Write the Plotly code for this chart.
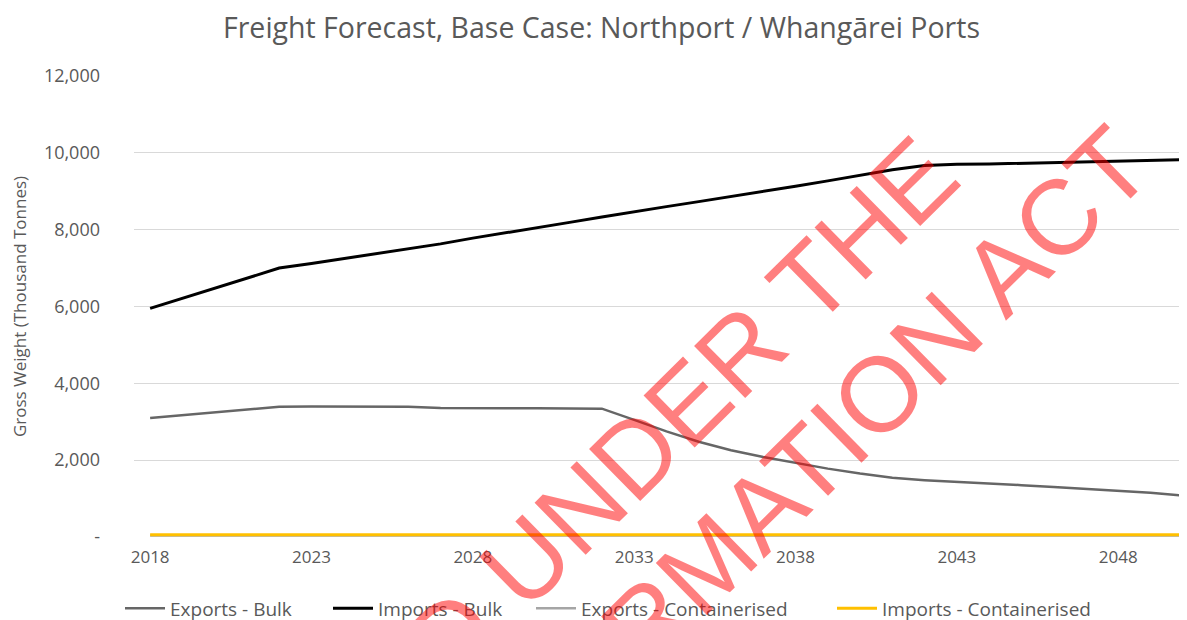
import plotly.graph_objects as go

years = list(range(2018, 2051))

exports_bulk = [3100, 3170, 3250, 3320, 3390, 3400, 3400, 3400, 3390, 3360, 3350,
                3350, 3350, 3350, 3340, 3050, 2750, 2480, 2260, 2080, 1930, 1780,
                1650, 1540, 1480, 1440, 1400, 1350, 1300, 1250, 1200, 1150, 1080]

imports_bulk = [5950, 6210, 6470, 6730, 7000, 7120, 7250, 7380, 7510, 7630, 7780,
                7910, 8050, 8190, 8330, 8470, 8600, 8730, 8860, 9000, 9130, 9270,
                9420, 9560, 9670, 9700, 9710, 9730, 9750, 9760, 9770, 9790, 9820]

exports_cont = [40] * 33

imports_cont = [60] * 33

x_ticks = [2018, 2023, 2028, 2033, 2038, 2043, 2048]
y_ticks = [0, 2000, 4000, 6000, 8000, 10000, 12000]
y_labels = ["-", "2,000", "4,000", "6,000", "8,000", "10,000", "12,000"]

FONT = "Open Sans"
TXT = "#595959"
L = 126
PW = 1187 - L

fig = go.Figure()
fig.add_trace(go.Scatter(x=years, y=exports_bulk, mode="lines", name="Exports - Bulk",
                         line=dict(color="#666666", width=2.5), legend="legend"))
fig.add_trace(go.Scatter(x=years, y=imports_bulk, mode="lines", name="Imports - Bulk",
                         line=dict(color="#000000", width=3), legend="legend2"))
fig.add_trace(go.Scatter(x=years, y=exports_cont, mode="lines", name="Exports - Containerised",
                         line=dict(color="#a5a5a5", width=2.5), legend="legend3"))
fig.add_trace(go.Scatter(x=years, y=imports_cont, mode="lines", name="Imports - Containerised",
                         line=dict(color="#FFC000", width=3), legend="legend4"))


def leg(px):
    return dict(orientation="h", x=(px - L) / PW, xanchor="left", y=-0.155, yanchor="middle",
                font=dict(size=19, color=TXT, family=FONT), itemwidth=40,
                bgcolor="rgba(0,0,0,0)")


fig.update_layout(
    width=1187, height=620,
    margin=dict(l=L, r=0, t=68, b=91),
    paper_bgcolor="white", plot_bgcolor="white",
    font=dict(family=FONT, color=TXT, size=17),
    title=dict(text="Freight Forecast, Base Case: Northport / Whangārei Ports",
               x=0.5, xref="container", xanchor="center", y=0.968, yanchor="middle",
               font=dict(family=FONT, size=28.5, color=TXT)),
    xaxis=dict(range=[2017.5, 2050.38], tickvals=x_ticks, ticktext=[str(v) for v in x_ticks],
               showgrid=False, zeroline=False, showline=False, ticks="",
               ticklabelstandoff=8,
               tickfont=dict(size=17, color=TXT)),
    yaxis=dict(range=[0, 12000], tickvals=y_ticks, ticktext=y_labels,
               showgrid=True, gridcolor="#d9d9d9", gridwidth=1, zeroline=False,
               showline=False, ticks="", ticklabelstandoff=33,
               tickfont=dict(size=18, color=TXT),
               title=dict(text="Gross Weight (Thousand Tonnes)", standoff=14,
                          font=dict(size=17, color=TXT))),
    legend=leg(112),
    legend2=leg(320),
    legend3=leg(523),
    legend4=leg(824),
    showlegend=True,
)

wm_font = dict(family="Liberation Sans", size=106, color="rgba(255,0,0,0.5)")
fig.add_annotation(text="RELEASED UNDER THE", xref="paper", yref="paper",
                   x=(498 - L) / PW, y=(536 - 580) / 461, showarrow=False,
                   textangle=-44.5, font=wm_font, xanchor="center", yanchor="middle")
fig.add_annotation(text="OFFICIAL INFORMATION ACT", xref="paper", yref="paper",
                   x=(598 - L) / PW, y=(536 - 661) / 461, showarrow=False,
                   textangle=-44.5, font=wm_font, xanchor="center", yanchor="middle")

fig.write_html("out.html")
